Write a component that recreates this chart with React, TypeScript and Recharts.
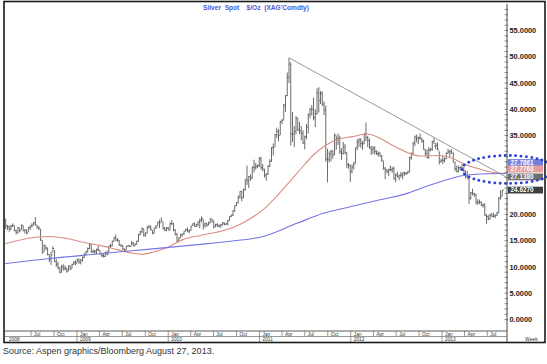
import {
  Bar,
  ComposedChart,
  Line,
  ReferenceDot,
  ReferenceLine,
  XAxis,
  YAxis,
} from 'recharts'

// weekly bars, week ending Friday, starting 21 Mar 2008: [low, high, close] in $/oz
const bars2008 = [
  [17.2, 19.2, 17.8], [17.0, 18.0, 17.6],
  [16.7, 17.9, 17.2], [17.0, 18.0, 17.8], [17.6, 18.3, 17.9], [16.8, 17.9, 16.9],
  [16.2, 17.1, 16.5], [16.4, 17.6, 17.5], [16.6, 17.4, 17.0], [17.1, 18.1, 17.9], [16.8, 17.9, 16.9],
  [16.4, 17.2, 17.1], [16.2, 17.1, 16.5], [16.6, 17.6, 17.5], [17.0, 17.9, 17.8],
  [17.5, 18.3, 17.9], [17.9, 18.6, 18.4], [17.9, 19.5, 18.0], [17.3, 18.0, 17.5],
  [17.0, 17.8, 17.3], [15.0, 17.2, 15.1], [12.5, 15.1, 12.8], [12.9, 14.3, 14.1], [13.2, 14.0, 13.6],
  [12.2, 13.7, 12.4], [10.9, 12.4, 11.4], [10.4, 12.9, 12.3], [12.7, 13.9, 13.5],
  [11.0, 13.2, 11.0], [10.0, 11.5, 10.5], [9.5, 11.0, 9.9], [8.8, 10.0, 9.0], [8.9, 10.4, 10.0],
  [9.3, 10.5, 9.8], [9.3, 10.3, 9.7], [8.9, 9.9, 9.2], [9.2, 10.3, 10.2],
  [9.4, 10.3, 9.6], [9.7, 10.6, 10.5], [10.4, 11.1, 10.8], [10.3, 11.3, 10.7],
]

const bars2009 = [
  [10.8, 11.6, 11.3], [10.6, 11.6, 10.9], [10.5, 11.5, 11.3], [11.0, 12.0, 11.8], [11.7, 12.6, 12.5],
  [12.2, 13.1, 12.9], [12.7, 13.7, 13.5], [13.4, 14.5, 14.3], [12.7, 14.3, 12.9],
  [12.6, 13.3, 13.0], [12.5, 13.3, 12.9], [12.4, 13.5, 13.3], [13.0, 14.0, 13.2],
  [12.3, 13.2, 12.5], [11.9, 12.7, 12.2], [11.8, 12.5, 12.0], [11.9, 12.9, 12.7],
  [12.2, 13.1, 12.4], [12.6, 14.0, 14.0], [13.7, 14.4, 14.0], [13.9, 15.0, 14.9], [14.8, 15.7, 15.6],
  [15.0, 16.2, 15.1], [14.8, 15.5, 15.1], [14.0, 15.1, 14.2], [13.8, 14.3, 14.0],
  [13.3, 14.2, 13.4], [12.9, 13.5, 13.2], [13.2, 14.0, 13.9], [13.9, 14.2, 14.0], [13.8, 14.2, 13.9],
  [14.1, 14.9, 14.5], [13.9, 14.8, 14.0], [14.0, 14.5, 14.3], [14.2, 15.0, 14.9],
  [14.8, 16.3, 16.2], [16.0, 16.9, 16.7], [16.4, 17.5, 17.3], [15.8, 17.3, 16.0],
  [15.8, 16.6, 16.4], [16.4, 17.8, 17.5], [17.3, 18.0, 17.6], [16.9, 17.9, 17.1], [16.2, 17.0, 16.4],
  [16.4, 17.5, 17.4], [17.3, 18.0, 17.6], [17.8, 18.6, 18.5], [17.4, 19.0, 18.4],
  [18.5, 19.4, 18.7], [17.1, 18.6, 17.4], [16.8, 17.6, 17.0], [16.8, 17.6, 17.4],
]

const bars2010 = [
  [17.0, 17.6, 17.0], [17.0, 18.4, 18.3], [18.0, 18.9, 18.2], [16.8, 18.4, 17.0], [16.0, 17.2, 16.2],
  [14.7, 16.5, 14.9], [14.9, 15.6, 15.5], [15.5, 16.3, 16.2], [15.7, 16.3, 16.3],
  [16.1, 16.8, 16.8], [16.8, 17.3, 17.1], [16.6, 17.5, 16.9], [16.4, 17.1, 16.9],
  [16.9, 17.8, 17.8], [17.8, 18.3, 18.2], [17.7, 18.5, 17.7], [17.6, 18.2, 18.1], [17.7, 18.7, 18.6],
  [17.4, 19.2, 18.9], [18.5, 19.6, 19.2], [17.1, 19.1, 17.9], [17.5, 18.4, 18.3],
  [17.6, 18.4, 18.0], [17.9, 18.6, 18.4], [18.3, 19.2, 19.2], [18.4, 19.1, 18.9],
  [17.3, 18.8, 17.6], [17.6, 18.2, 18.1], [17.6, 18.3, 17.9], [17.5, 18.1, 17.7], [17.5, 18.2, 18.0],
  [17.9, 18.5, 18.4], [17.9, 18.5, 18.1], [18.0, 18.4, 18.2], [17.9, 18.9, 18.8],
  [18.8, 19.6, 19.6], [19.5, 20.0, 19.8], [19.7, 20.8, 20.7], [20.5, 21.7, 21.7],
  [21.6, 22.3, 22.2], [22.1, 23.6, 23.3], [23.0, 24.4, 24.4], [22.5, 24.5, 23.1], [23.1, 24.9, 24.7],
  [24.5, 26.7, 26.7], [25.6, 29.3, 26.4], [25.0, 27.3, 27.2], [26.4, 27.6, 26.9],
  [26.8, 29.1, 29.0], [28.0, 30.4, 28.9], [28.5, 29.8, 29.1], [28.8, 29.5, 29.3], [29.0, 30.9, 30.6],
]

const bars2011 = [
  [28.5, 31.0, 28.9], [28.2, 29.6, 28.6], [27.0, 28.7, 27.5], [26.4, 27.8, 27.7],
  [27.5, 29.4, 29.2], [29.0, 30.5, 30.1], [30.0, 32.8, 32.7], [31.2, 33.5, 32.8],
  [32.9, 35.3, 35.2], [34.5, 36.5, 35.8], [33.9, 36.2, 35.0], [35.1, 37.8, 37.7],
  [37.2, 38.2, 37.9], [38.0, 41.0, 40.8], [39.5, 42.7, 42.6], [42.5, 47.0, 46.1], [45.0, 49.8, 48.6],
  [33.1, 48.9, 35.3], [33.8, 39.5, 35.3], [32.8, 36.8, 35.8], [35.2, 38.7, 38.3],
  [35.9, 38.4, 36.1], [35.3, 37.6, 35.9], [34.1, 36.8, 35.4], [33.4, 36.0, 33.6],
  [32.4, 35.0, 34.8], [34.3, 37.2, 36.6], [35.4, 39.2, 39.1], [38.3, 40.3, 40.0], [38.8, 40.8, 40.0],
  [37.9, 42.2, 38.4], [36.6, 40.0, 39.2], [39.0, 44.0, 43.1], [39.4, 44.2, 41.7],
  [41.0, 43.5, 43.0], [40.6, 43.4, 41.0], [38.9, 41.5, 39.8], [30.0, 40.7, 30.5], [26.1, 32.5, 30.4],
  [29.9, 32.0, 31.5], [30.1, 32.3, 32.0], [30.6, 32.2, 31.3], [31.3, 35.4, 35.1],
  [32.3, 35.0, 34.4], [33.2, 35.4, 34.5], [31.5, 35.0, 31.9], [30.4, 32.6, 31.6],
  [31.4, 33.8, 32.8], [31.4, 33.4, 31.8], [28.8, 31.8, 29.5], [28.7, 29.8, 29.3], [26.2, 29.5, 28.2],
]

const bars2012 = [
  [27.8, 29.5, 29.0], [28.5, 30.0, 29.6], [29.7, 32.7, 32.7], [32.2, 34.3, 33.8],
  [32.8, 34.5, 34.2], [32.7, 34.5, 33.5], [32.3, 34.0, 33.4], [33.4, 35.5, 35.3],
  [33.9, 37.5, 34.6], [32.8, 34.9, 34.0], [32.5, 34.5, 32.7], [31.3, 33.0, 32.3], [31.5, 33.0, 32.5],
  [31.4, 33.0, 32.0], [31.3, 32.2, 31.6], [31.0, 32.0, 31.6], [31.0, 31.9, 31.1],
  [30.0, 31.3, 30.3], [28.5, 30.2, 28.8], [26.7, 29.0, 28.5], [27.8, 28.6, 28.2],
  [27.3, 28.7, 28.5], [28.2, 29.3, 28.5], [27.9, 29.0, 28.7], [26.6, 29.1, 26.8], [26.1, 27.8, 27.5],
  [27.1, 28.1, 27.1], [26.5, 27.6, 27.4], [27.0, 28.1, 27.5], [26.7, 28.0, 27.9],
  [27.3, 28.1, 27.8], [27.5, 28.1, 27.8], [27.7, 28.3, 28.1], [28.0, 31.0, 30.8], [30.4, 31.8, 31.6],
  [31.5, 33.8, 33.6], [33.0, 35.0, 34.7], [33.7, 35.2, 34.5], [33.4, 34.8, 34.6],
  [34.2, 35.4, 34.5], [33.6, 34.6, 34.0], [32.3, 34.2, 32.4], [31.1, 32.4, 31.6],
  [30.7, 32.4, 30.8], [30.6, 32.8, 32.2], [32.0, 32.7, 32.4], [32.1, 34.0, 33.9], [33.4, 34.6, 33.0],
  [32.4, 33.6, 33.1], [32.2, 33.7, 32.3], [29.5, 32.0, 30.0], [29.9, 30.6, 30.2],
]

const bars2013 = [
  [29.6, 31.2, 30.3], [29.9, 30.8, 30.6], [30.5, 31.8, 31.6], [31.5, 32.5, 31.9],
  [30.9, 32.3, 31.9], [31.6, 32.4, 31.6], [29.9, 31.8, 29.9], [28.2, 30.0, 28.7],
  [28.0, 29.3, 28.2], [28.0, 29.3, 28.9], [28.4, 29.1, 28.9], [28.6, 29.6, 28.6], [28.0, 29.0, 28.3],
  [26.8, 28.3, 27.3], [26.9, 28.3, 26.8], [22.0, 26.8, 23.1], [22.8, 24.3, 24.1],
  [23.6, 24.9, 24.0], [23.3, 24.1, 23.8], [21.9, 23.9, 22.3], [21.8, 22.9, 22.3], [22.0, 22.8, 22.3],
  [21.6, 22.5, 21.7], [21.3, 22.1, 21.8], [19.7, 22.1, 19.9], [18.2, 20.0, 19.6],
  [18.9, 19.9, 19.1], [19.0, 20.1, 19.9], [19.6, 20.3, 19.6], [19.4, 20.3, 19.7],
  [19.3, 20.0, 19.9], [19.7, 20.5, 20.3], [20.3, 23.3, 23.1], [22.8, 24.6, 23.4], [23.5, 24.63, 24.63],
]

// moving averages: [year fraction, value]
const redAverage = [
  [2008.21, 14.4], [2008.52, 15.6], [2008.7, 15.8], [2008.89, 15.4], [2009.07, 14.7],
  [2009.25, 14.1], [2009.44, 13.3], [2009.61, 12.6], [2009.72, 12.4], [2009.83, 12.8],
  [2009.99, 13.7], [2010.16, 15.2], [2010.35, 16.0], [2010.53, 16.6], [2010.71, 17.5],
  [2010.87, 18.9], [2011.04, 20.9], [2011.19, 23.5], [2011.33, 26.2], [2011.44, 28.4],
  [2011.59, 31.3], [2011.74, 33.3], [2011.88, 34.4], [2012.02, 34.8], [2012.18, 35.3],
  [2012.32, 34.5], [2012.46, 33.1], [2012.62, 31.8], [2012.76, 31.1], [2012.98, 31.2],
  [2013.12, 30.6], [2013.27, 29.4], [2013.42, 28.6], [2013.56, 27.95], [2013.7, 27.7763],
]

const blueAverage = [
  [2008.21, 10.6], [2008.7, 11.6], [2009.25, 12.5], [2009.8, 13.4], [2010.35, 14.3],
  [2010.68, 14.9], [2011.04, 15.8], [2011.41, 18.3], [2011.7, 20.2], [2011.96, 21.3],
  [2012.32, 22.8], [2012.62, 24.0], [2012.76, 24.9], [2012.98, 26.2], [2013.2, 27.3],
  [2013.42, 27.7], [2013.7, 27.7861],
]

const resistance = [
  [2011.323, 49.8],
  [2013.7, 27.138],
]

const lastValues = [
  { value: 27.7861, text: '27.7861', bg: '#7480dc', shift: -11 },
  { value: 27.7763, text: '27.7763', bg: '#e59c9c', shift: -4.5 },
  { value: 27.138, text: '27.1380', bg: '#6e6e6e', shift: 0 },
  { value: 24.627, text: '24.6270', bg: '#3f3f3f', shift: 0 },
]

const quarterNames = ['Jan', 'Apr', 'Jul', 'Oct']
const years = [2008, 2009, 2010, 2011, 2012, 2013]
const priceSteps = Array.from({ length: 60 }, (_, i) => i)
// labels that sit under the last-value tags
const coveredLabels = [25, 30]

const FIRST_WEEK = Date.UTC(2008, 2, 21)
const WEEK_MS = 7 * 86400000
const X_MIN = 2008.211
const X_MAX = 2013.712
const Y_MIN = -2.19
const Y_MAX = 60.04
const FONT = 'Arial, "Liberation Sans", Helvetica, sans-serif'

function toYear(ms: number) {
  const y = new Date(ms).getUTCFullYear()
  const a = Date.UTC(y, 0, 1)
  const b = Date.UTC(y + 1, 0, 1)
  return y + (ms - a) / (b - a)
}

const weeks = [...bars2008, ...bars2009, ...bars2010, ...bars2011, ...bars2012, ...bars2013].map(
  ([low, high, close], i) => ({
    t: toYear(FIRST_WEEK + i * WEEK_MS),
    range: [low, high],
    close,
  }),
)

const toPoints = (rows: number[][]) => rows.map(([t, v]) => ({ t, v }))

const timeTicks = [X_MIN]
years.forEach((y) =>
  [0, 3, 6, 9].forEach((m) => {
    const t = toYear(Date.UTC(y, m, 1))
    if (t > X_MIN + 0.05 && t < X_MAX) timeTicks.push(t)
  }),
)

function OhlcBar(props: any) {
  const { x, y, width, height, payload } = props
  if (x == null || !payload) return null
  const cx = x + width / 2
  const top = Math.min(y, y + height)
  const h = Math.abs(height)
  const [lo, hi] = payload.range
  const cy = top + ((hi - payload.close) / (hi - lo || 1)) * h
  return (
    <g>
      <line x1={cx} x2={cx} y1={top} y2={top + h} stroke="#505050" strokeWidth={0.85} />
      <line x1={cx} x2={cx + 1.6} y1={cy} y2={cy} stroke="#505050" strokeWidth={0.75} />
    </g>
  )
}

function TimeTick(props: any) {
  const { x, y, payload } = props
  const v = payload.value as number
  const style = { fontSize: 4.8, fill: '#333', fontFamily: FONT }
  if (v === X_MIN) {
    return (
      <text x={x + 4} y={y + 10} {...style}>
        {years[0]}
      </text>
    )
  }
  const year = Math.floor(v + 0.001)
  const q = Math.round((v - year) * 4) % 4
  return (
    <g>
      <line x1={x} x2={x} y1={y} y2={y + (q === 0 ? 11 : 5.5)} stroke="#555" strokeWidth={0.6} />
      <text x={x + 3} y={y + 4.6} {...style}>
        {quarterNames[q]}
      </text>
      {q === 0 && (
        <text x={x + 3} y={y + 10} {...style}>
          {year}
        </text>
      )}
    </g>
  )
}

function PriceTick(props: any) {
  const { x, y, payload } = props
  const v = payload.value as number
  const labelled = v % 5 === 0 && !coveredLabels.includes(v)
  return (
    <g>
      <line x1={x - 2.5} x2={x + 1} y1={y} y2={y} stroke="#444" strokeWidth={0.6} />
      {labelled && (
        <text x={x + 2.5} y={y + 2.7} fontSize={7.4} fontWeight="bold" fill="#222" fontFamily={FONT}>
          {v.toFixed(4)}
        </text>
      )}
    </g>
  )
}

function ValueTag(props: any) {
  const { viewBox, text, bg, shift } = props
  if (!viewBox) return null
  const bx = viewBox.x + viewBox.width + 1
  const cy = viewBox.y + shift
  return (
    <g>
      <rect x={bx} y={cy - 3.4} width={35} height={6.8} fill={bg} />
      <text x={bx + 2.5} y={cy + 2.3} fontSize={6.4} fontWeight="bold" fill="#fff" fontFamily={FONT}>
        {text}
      </text>
    </g>
  )
}

function Ellipse(props: any) {
  const { cx, cy } = props
  return (
    <ellipse
      cx={cx + 1}
      cy={cy}
      rx={46}
      ry={14}
      fill="none"
      stroke="#2b3fd6"
      strokeWidth={2.8}
      strokeDasharray="0.1 5.2"
      strokeLinecap="round"
    />
  )
}

export default function App() {
  return (
    <div
      style={{
        position: 'absolute',
        left: 0,
        top: 0,
        width: 547,
        height: 364,
        background: '#fff',
        fontFamily: FONT,
        overflow: 'hidden',
      }}
    >
      <ComposedChart width={547} height={342} data={weeks} margin={{ top: 4, right: 2, bottom: 0, left: 5 }}>
        <XAxis
          type="number"
          dataKey="t"
          domain={[X_MIN, X_MAX]}
          allowDataOverflow
          ticks={timeTicks}
          interval={0}
          tick={<TimeTick />}
          tickLine={false}
          tickSize={0}
          tickMargin={0}
          height={11}
          axisLine={{ stroke: '#333', strokeWidth: 0.8 }}
        />
        <YAxis
          yAxisId="l"
          orientation="left"
          mirror
          width={0}
          domain={[Y_MIN, Y_MAX]}
          allowDataOverflow
          ticks={priceSteps}
          interval={0}
          tick={false}
          tickSize={2}
          tickLine={{ stroke: '#555', strokeWidth: 0.6 }}
          axisLine={{ stroke: '#222', strokeWidth: 1.8 }}
        />
        <YAxis
          yAxisId="r"
          orientation="right"
          width={38}
          domain={[Y_MIN, Y_MAX]}
          allowDataOverflow
          ticks={priceSteps}
          interval={0}
          tick={<PriceTick />}
          tickLine={false}
          tickSize={0}
          tickMargin={0}
          axisLine={{ stroke: '#333', strokeWidth: 0.9 }}
        />
        <Bar yAxisId="r" dataKey="range" barSize={1} shape={<OhlcBar />} isAnimationActive={false} />
        <Line
          yAxisId="r"
          data={toPoints(redAverage)}
          dataKey="v"
          type="monotone"
          stroke="#db8d84"
          strokeWidth={1.1}
          dot={false}
          isAnimationActive={false}
        />
        <Line
          yAxisId="r"
          data={toPoints(blueAverage)}
          dataKey="v"
          type="monotone"
          stroke="#7676e6"
          strokeWidth={1.1}
          dot={false}
          isAnimationActive={false}
        />
        <Line
          yAxisId="r"
          data={toPoints(resistance)}
          dataKey="v"
          type="linear"
          stroke="#8c8c8c"
          strokeWidth={0.9}
          dot={false}
          isAnimationActive={false}
        />
        {lastValues.map((d) => (
          <ReferenceLine
            key={d.text}
            yAxisId="r"
            y={d.value}
            stroke="transparent"
            label={<ValueTag text={d.text} bg={d.bg} shift={d.shift} />}
          />
        ))}
        <ReferenceDot yAxisId="r" x={X_MAX} y={28.55} ifOverflow="visible" shape={<Ellipse />} />
      </ComposedChart>
      <svg width={547} height={364} style={{ position: 'absolute', left: 0, top: 0, pointerEvents: 'none' }}>
        <rect x={4} y={1.5} width={541} height={341} fill="none" stroke="#1a1a1a" strokeWidth={1.6} />
        <line x1={4} x2={507} y1={336.5} y2={336.5} stroke="#555" strokeWidth={0.6} />
        <line x1={507} x2={507} y1={331} y2={342} stroke="#333" strokeWidth={0.9} />
        <text
          x={256}
          y={9.5}
          textAnchor="middle"
          fontSize={6.6}
          fontWeight="bold"
          fill="#5058d8"
          fontFamily={FONT}
          style={{ whiteSpace: 'pre' }}
        >
          {"Silver  Spot    $/Oz  (XAG'Comdty)"}
        </text>
        <text x={525} y={340.5} fontSize={5} fill="#333" fontFamily={FONT}>
          Week
        </text>
      </svg>
      <div style={{ position: 'absolute', left: 3, top: 346, fontSize: 9, color: '#333', whiteSpace: 'nowrap' }}>
        Source: Aspen graphics/Bloomberg August 27, 2013.
      </div>
    </div>
  )
}
